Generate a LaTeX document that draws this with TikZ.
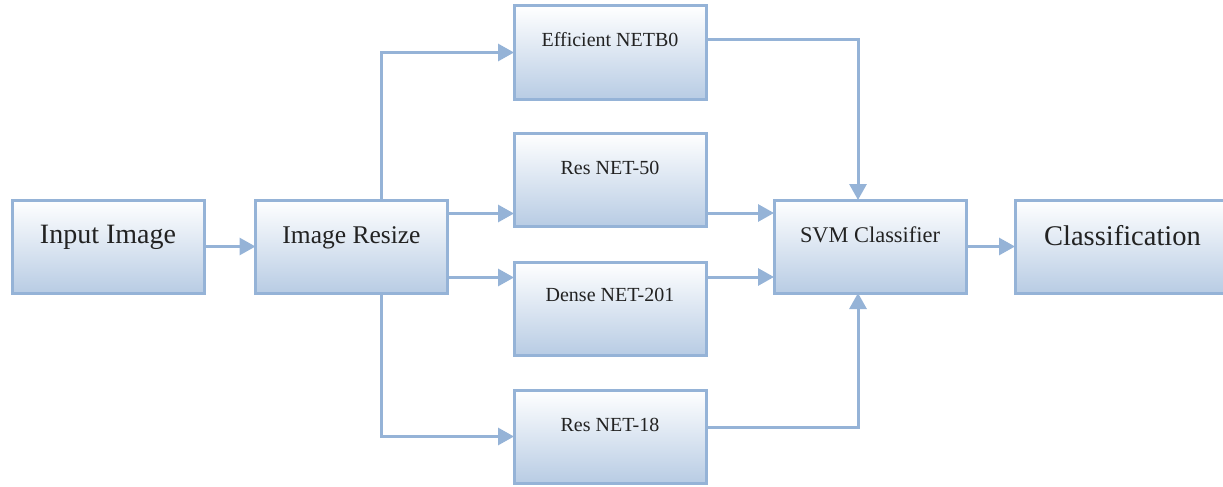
\documentclass[tikz,border=0pt]{standalone}
\usepackage{fontspec}
\setmainfont{Liberation Serif}
\usetikzlibrary{arrows.meta}
\definecolor{linec}{HTML}{95B3D7}
\definecolor{boxbot}{HTML}{B8CCE4}
\definecolor{textc}{HTML}{222222}
\tikzset{
  box/.style={draw=linec, line width=3pt, top color=white, bottom color=boxbot,
    rectangle, inner sep=0pt, outer sep=0pt, minimum width=192pt, text=textc, align=center},
  arr/.style={draw=linec, line width=3pt, -{Triangle[length=16pt,width=17pt]}},
}
\begin{document}
\begin{tikzpicture}[x=1pt, y=-1pt]
\clip (0,0) rectangle (1223,487);
% boxes
\node[box, text height=43pt, text depth=50pt, font=\fontsize{28}{30}\selectfont] (in) at (108,246.5) {Input Image};
\node[box, text height=43pt, text depth=50pt, font=\fontsize{25.5}{28}\selectfont] (rs) at (351.5,246.5) {Image Resize};
\node[box, text height=41pt, text depth=52pt, font=\fontsize{20}{22}\selectfont] (eff) at (610,52.5) {Efficient NETB0};
\node[box, text height=41pt, text depth=52pt, font=\fontsize{20}{22}\selectfont] (r50) at (610,179.5) {Res NET-50};
\node[box, text height=39pt, text depth=54pt, font=\fontsize{20}{22}\selectfont] (dn) at (610,308.5) {Dense NET-201};
\node[box, text height=41pt, text depth=52pt, font=\fontsize{20}{22}\selectfont] (r18) at (610,436.5) {Res NET-18};
\node[box, text height=42pt, text depth=51pt, font=\fontsize{22.4}{25}\selectfont] (svm) at (870,246.5) {SVM Classifier};
\node[box, minimum width=215pt, text height=45pt, text depth=48pt, font=\fontsize{28.5}{30}\selectfont] (cls) at (1122.5,246.5) {Classification};
% connectors
\draw[arr] (in.east) -- (rs.west);
\draw[arr] ([xshift=30pt]rs.north) |- (eff.west);
\draw[arr] ([yshift=33pt]rs.east) -- ([yshift=33pt]rs.east -| r50.west);
\draw[arr] ([yshift=-31pt]rs.east) -- ([yshift=-31pt]rs.east -| dn.west);
\draw[arr] ([xshift=30pt]rs.south) |- (r18.west);
\draw[arr] ([yshift=12.5pt]eff.east) -| ([xshift=-12pt]svm.north);
\draw[arr] ([yshift=-33.5pt]r50.east) -- ([yshift=-33.5pt]r50.east -| svm.west);
\draw[arr] ([yshift=31.5pt]dn.east) -- ([yshift=31.5pt]dn.east -| svm.west);
\draw[arr] ([yshift=9.5pt]r18.east) -| ([xshift=-12pt]svm.south);
\draw[arr] (svm.east) -- (cls.west);
\end{tikzpicture}
\end{document}
